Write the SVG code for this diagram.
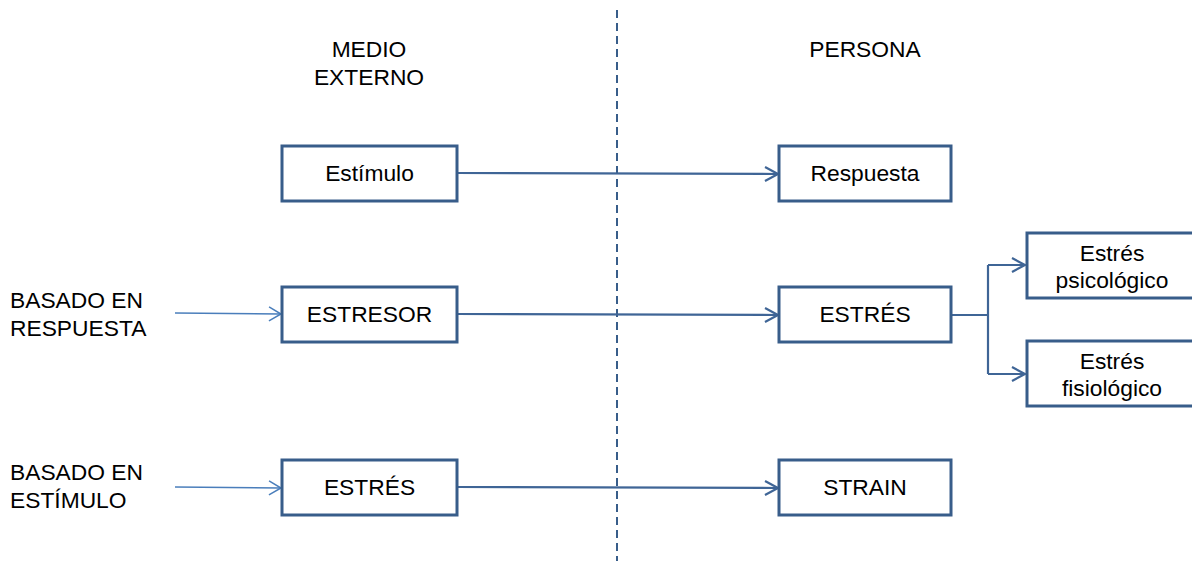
<svg xmlns="http://www.w3.org/2000/svg" width="1192" height="561" viewBox="0 0 1192 561">
<style>
text{font-family:"Liberation Sans",Arial,sans-serif;font-size:22.8px;fill:#000}
.c{text-anchor:middle}
.box{fill:#fff;stroke:#385D8A;stroke-width:3}
.ln{fill:none;stroke:#3F6596;stroke-width:2.2}
.thin{fill:none;stroke:#4A7EBB;stroke-width:1.3}
</style>
<defs>
<marker id="a" markerWidth="18" markerHeight="18" refX="15" refY="9" orient="auto" markerUnits="userSpaceOnUse">
<path d="M2,2 L15,9 L2,16" fill="none" stroke="#3F6596" stroke-width="2.2"/>
</marker>
<marker id="b" markerWidth="18" markerHeight="18" refX="15" refY="9" orient="auto" markerUnits="userSpaceOnUse">
<path d="M3,2 L15,9 L3,16" fill="none" stroke="#4A7EBB" stroke-width="1.5"/>
</marker>
</defs>
<line x1="617" y1="10" x2="617" y2="561" stroke="#385D8A" stroke-width="2" stroke-dasharray="8,5"/>
<text class="c" x="369" y="57">MEDIO</text>
<text class="c" x="369" y="85">EXTERNO</text>
<text class="c" x="865" y="57">PERSONA</text>
<text x="10" y="308">BASADO EN</text>
<text x="10" y="336">RESPUESTA</text>
<text x="10" y="480">BASADO EN</text>
<text x="10" y="508">ESTÍMULO</text>
<g id="connectors">
<line class="ln" x1="457" y1="173" x2="778" y2="174" marker-end="url(#a)"/>
<line class="ln" x1="457" y1="314" x2="778" y2="315" marker-end="url(#a)"/>
<line class="ln" x1="457" y1="487" x2="778" y2="488" marker-end="url(#a)"/>
<line class="thin" x1="175" y1="313" x2="281" y2="314" marker-end="url(#b)"/>
<line class="thin" x1="175" y1="487" x2="281" y2="488" marker-end="url(#b)"/>
<path class="ln" d="M951,315 H988"/>
<path class="ln" d="M988,265 V374"/>
<line class="ln" x1="988" y1="265" x2="1025" y2="265" marker-end="url(#a)"/>
<line class="ln" x1="988" y1="374" x2="1025" y2="374" marker-end="url(#a)"/>
</g>
<g id="estimulo"><rect class="box" x="282" y="146" width="175" height="55"/><text class="c" x="369.5" y="181">Estímulo</text></g>
<g id="respuesta"><rect class="box" x="779" y="146" width="172" height="55"/><text class="c" x="865" y="181">Respuesta</text></g>
<g id="estresor"><rect class="box" x="282" y="287" width="175" height="55"/><text class="c" x="369.5" y="322">ESTRESOR</text></g>
<g id="estres1"><rect class="box" x="779" y="287" width="172" height="55"/><text class="c" x="865" y="322">ESTRÉS</text></g>
<g id="estres2"><rect class="box" x="282" y="460" width="175" height="55"/><text class="c" x="369.5" y="495">ESTRÉS</text></g>
<g id="strain"><rect class="box" x="779" y="460" width="172" height="55"/><text class="c" x="865" y="495">STRAIN</text></g>
<g id="psico"><rect class="box" x="1027" y="233" width="170" height="65"/><text class="c" x="1112" y="261">Estrés</text><text class="c" x="1112" y="288">psicológico</text></g>
<g id="fisio"><rect class="box" x="1027" y="341" width="170" height="65"/><text class="c" x="1112" y="369">Estrés</text><text class="c" x="1112" y="396">fisiológico</text></g>
</svg>
